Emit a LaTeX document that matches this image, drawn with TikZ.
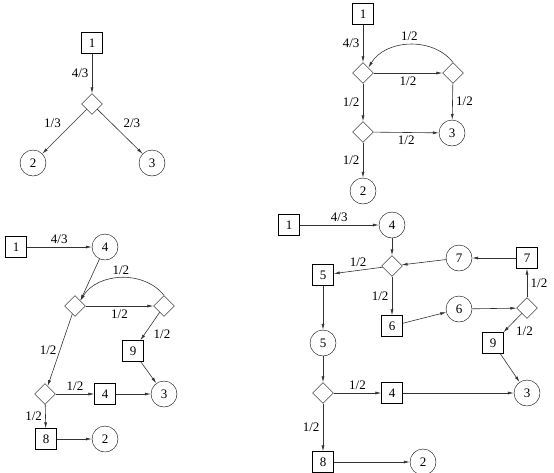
\documentclass[tikz,border=0pt]{standalone}
\usepackage{fontspec}
\setmainfont{Liberation Serif}
\usetikzlibrary{arrows.meta,shapes.geometric}

\begin{document}
\begin{tikzpicture}[x=1pt, y=-1pt,
    every node/.style={font=\fontsize{13}{15}\selectfont},
    sq/.style={draw, minimum size=21pt, inner sep=0pt},
    circ/.style={draw, circle, minimum size=26pt, inner sep=0pt},
    dia/.style={draw, diamond, minimum width=21pt, minimum height=21pt, inner sep=0pt},
    arr/.style={-{Latex[length=6pt,width=3pt]}, draw=black!80, line width=0.6pt}
]
\useasboundingbox (0,0) rectangle (554,472);

% top left
\node[sq] (a1) at (92,43) {1};
\node[dia] (aq) at (92,104) {};
\node[circ] (a2) at (33,163) {2};
\node[circ] (a3) at (152,163) {3};

\draw[arr] (a1) -- node[left] {4/3} (aq);
\draw[arr] (aq) -- node[above left] {1/3} (a2);
\draw[arr] (aq) -- node[above right] {2/3} (a3);

% top right
\node[sq] (b1) at (363,14) {1};
\node[dia] (bq1) at (363,73) {};
\node[dia] (bq2) at (453,73) {};
\node[dia] (bq3) at (363,132) {};
\node[circ] (b3) at (452,133) {3};
\node[circ] (b2) at (363,191) {2};

\draw[arr] (b1) -- node[left] {4/3} (bq1);
\draw[arr] (bq1) -- node[below] {1/2} (bq2);
\draw[arr] (bq2.north) to[bend right=55] node[above] {1/2} (bq1.north east);
\draw[arr] (bq1) -- node[left] {1/2} (bq3);
\draw[arr] (bq2) -- node[right] {1/2} (b3);
\draw[arr] (bq3) -- node[below] {1/2} (b3);
\draw[arr] (bq3) -- node[left] {1/2} (b2);

% bottom left
\node[sq] (c1) at (16,247) {1};
\node[circ] (c4) at (105,247) {4};
\node[dia] (cq1) at (75,306) {};
\node[dia] (cq2) at (164,306) {};
\node[sq] (c9) at (133,351) {9};
\node[dia] (cq3) at (45,394) {};
\node[sq] (cb4) at (105,394) {4};
\node[circ] (c3) at (164,394) {3};
\node[sq] (c8) at (46,439) {8};
\node[circ] (c2) at (105,439) {2};

\draw[arr] (c1) -- node[above] {4/3} (c4);
\draw[arr] (c4) -- (cq1.north east);
\draw[arr] (cq1) -- node[below] {1/2} (cq2);
\draw[arr] (cq2.north) to[bend right=55] node[above] {1/2} (cq1.north east);
\draw[arr] (cq2) -- node[below right] {1/2} (c9);
\draw[arr] (cq1) -- node[left] {1/2} (cq3);
\draw[arr] (cq3) -- node[above] {1/2} (cb4);
\draw[arr] (cb4) -- (c3);
\draw[arr] (c9) -- (c3);
\draw[arr] (cq3) -- node[left] {1/2} (c8);
\draw[arr] (c8) -- (c2);

% bottom right
\node[sq] (d1) at (289,225) {1};
\node[circ] (d4) at (392,225) {4};
\node[dia] (dq1) at (392,266) {};
\node[circ] (dc7) at (459,258) {7};
\node[sq] (db7) at (527,258) {7};
\node[sq] (db5) at (323,275) {5};
\node[sq] (db6) at (392,326) {6};
\node[circ] (dc6) at (459,309) {6};
\node[dia] (dq2) at (527,308) {};
\node[sq] (d9) at (493,343) {9};
\node[circ] (dc5) at (323,343) {5};
\node[dia] (dq3) at (323,393) {};
\node[sq] (db4) at (392,393) {4};
\node[circ] (d3) at (527,393) {3};
\node[sq] (d8) at (323,462) {8};
\node[circ] (d2) at (423,462) {2};

\draw[arr] (d1) -- node[above] {4/3} (d4);
\draw[arr] (d4) -- (dq1);
\draw[arr] (dq1) -- node[above] {1/2} (db5);
\draw[arr] (dq1) -- node[left] {1/2} (db6);
\draw[arr] (dc7) -- (dq1);
\draw[arr] (db7) -- (dc7);
\draw[arr] (dq2) -- node[right] {1/2} (db7);
\draw[arr] (db6) -- (dc6);
\draw[arr] (dc6) -- (dq2);
\draw[arr] (dq2) -- node[below right] {1/2} (d9);
\draw[arr] (d9) -- (d3);
\draw[arr] (db5) -- (dc5);
\draw[arr] (dc5) -- (dq3);
\draw[arr] (dq3) -- node[above] {1/2} (db4);
\draw[arr] (db4) -- (d3);
\draw[arr] (dq3) -- node[left] {1/2} (d8);
\draw[arr] (d8) -- (d2);
\end{tikzpicture}
\end{document}
